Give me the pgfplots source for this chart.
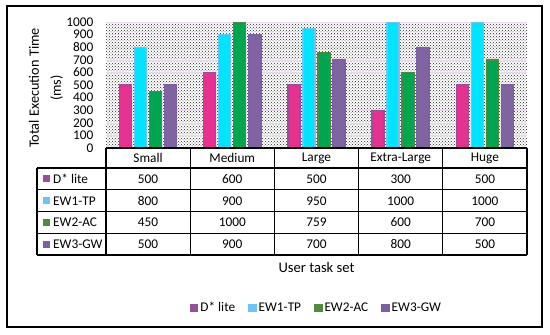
\documentclass[border=0pt]{standalone}
\usepackage{fontspec}
\setmainfont{Carlito}
\usepackage{pgfplots}
\pgfplotsset{compat=1.18}
\usepackage{pgfplotstable}
\usetikzlibrary{patterns}

\definecolor{dbody}{HTML}{E6318E}
\definecolor{dcap}{HTML}{9A4E9C}
\definecolor{abody}{HTML}{00E5FF}
\definecolor{acap}{HTML}{6EC5F2}
\definecolor{bbody}{HTML}{00A550}
\definecolor{bcap}{HTML}{4F8A3E}
\definecolor{cbody}{HTML}{8064A2}
\definecolor{ccap}{HTML}{7E5FA6}

\pgfplotstableread{
x cat D EW1 EW2 EW3
0 Small 500 800 450 500
1 Medium 600 900 1000 900
2 Large 500 950 759 700
3 Extra-Large 300 1000 600 800
4 Huge 500 1000 700 500
}\datatable

\begin{document}
\fontsize{13.3}{15}\selectfont
\begin{tikzpicture}[x=1pt,y=1pt, every node/.style={font=\fontsize{13.3}{15}\selectfont}]
\path[use as bounding box] (0,0) rectangle (550,335);
\draw[line width=2.2pt] (7,8) rectangle (542,329);
\begin{axis}[
  at={(106pt,187pt)}, anchor=south west,
  width=421pt, height=126pt, scale only axis,
  xmin=-0.5, xmax=4.5, ymin=0, ymax=1000,
  ytick={0,100,...,1000},
  xtick=\empty,
  axis line style={draw=none},
  major tick length=0pt,
  ymajorgrids, grid style={color=blue!15!violet!15, line width=0.5pt},
  axis background/.style={pattern=crosshatch dots, pattern color=black!85},
  ybar=3pt, bar width=12pt,
  /pgf/number format/assume math mode=true,
  /pgf/number format/1000 sep={},
  yticklabel style={xshift=-8pt, inner ysep=0pt, font=\fontsize{13.3}{15}\selectfont},
  legend columns=4,
  legend style={at={(0.5,-1.27)}, anchor=center, draw=none, fill=none,
    font=\fontsize{13.3}{15}\selectfont,
    /tikz/every even column/.append style={column sep=11pt}},
]
\addplot[fill=dbody, draw=dcap, line width=1.4pt,
  legend image code/.code={\fill[dcap] (0pt,-3.5pt) rectangle (7pt,3.5pt);}]
  table[x=x, y=D] {\datatable};
\addplot[fill=abody, draw=acap, line width=1.4pt,
  legend image code/.code={\fill[acap] (0pt,-3.5pt) rectangle (7pt,3.5pt);}]
  table[x=x, y=EW1] {\datatable};
\addplot[fill=bbody, draw=bcap, line width=1.4pt,
  legend image code/.code={\fill[bcap] (0pt,-3.5pt) rectangle (7pt,3.5pt);}]
  table[x=x, y=EW2] {\datatable};
\addplot[fill=cbody, draw=ccap, line width=1.4pt,
  legend image code/.code={\fill[ccap] (0pt,-3.5pt) rectangle (7pt,3.5pt);}]
  table[x=x, y=EW3] {\datatable};
\legend{D* lite, EW1-TP, EW2-AC, EW3-GW}
\end{axis}
% y label and x label
\node[rotate=90, align=center, font=\fontsize{14.3}{22}\selectfont] at (46,247) {Total Execution Time\\(ms)};
\node[font=\fontsize{14.6}{16}\selectfont] at (316.5,68) {User task set};
% data table grid
\begin{scope}[line width=1.2pt]
\draw (106,187) -- (527,187);
\foreach \yy in {167,145.25,123.5,101.75,80} \draw (37,\yy) -- (527,\yy);
\draw (37,167) -- (37,80);
\foreach \r in {0,...,5} \draw ({106+84.2*\r},187) -- ({106+84.2*\r},80);
\end{scope}
% row keys
\foreach \c/\n/\yy in {dcap/D* lite/156, acap/EW1-TP/134.25, bcap/EW2-AC/112.5, ccap/EW3-GW/90.75} {
  \fill[\c] (43,\yy-3.5) rectangle (50,\yy+3.5);
  \node[anchor=west, inner sep=0pt] at (53,\yy) {\n};
}
% table contents
\foreach \r in {0,...,4} {
  \pgfplotstablegetelem{\r}{cat}\of\datatable
  \node at ({106+84.2*(\r+0.5)},177) {\pgfplotsretval};
  \foreach \c/\yy in {D/156, EW1/134.25, EW2/112.5, EW3/90.75} {
    \pgfplotstablegetelem{\r}{\c}\of\datatable
    \node at ({106+84.2*(\r+0.5)},\yy) {\pgfplotsretval};
  }
}
\end{tikzpicture}
\end{document}
